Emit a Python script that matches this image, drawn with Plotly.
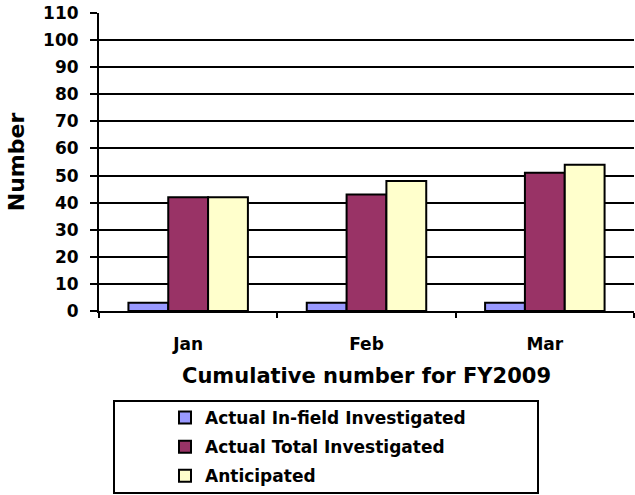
import plotly.graph_objects as go

months = ["Jan", "Feb", "Mar"]
infield = [3, 3, 3]
total = [42, 43, 51]
anticipated = [42, 48, 54]
series_names = ["Actual In-field Investigated", "Actual Total Investigated", "Anticipated"]
colors = ["#9999FF", "#993366", "#FFFFCC"]
y_ticks = list(range(0, 111, 10))

FONT = "DejaVu Sans"

fig = go.Figure()
for i, (name, vals, col) in enumerate(zip(series_names, [infield, total, anticipated], colors)):
    fig.add_trace(go.Bar(
        x=months, y=vals, name=name, legendgroup=str(i),
        marker=dict(color=col, line=dict(color="black", width=2)),
    ))

W, H = 635, 495
ml, mr, mt, mb = 99, 1, 13, 184
pw, ph = W - ml - mr, H - mt - mb

def px(x):
    return (x - ml) / pw

def py(y):
    return (H - mb - y) / ph

fig.update_layout(
    width=W, height=H,
    margin=dict(l=ml, r=mr, t=mt, b=mb, pad=0),
    paper_bgcolor="white", plot_bgcolor="white",
    barmode="group", bargap=0.33, bargroupgap=0,
    font=dict(family=FONT, color="black", size=17, weight="bold"),
    showlegend=True,
    legend=dict(
        orientation="v", x=px(165), xanchor="left", y=py(400), yanchor="top",
        font=dict(family=FONT, size=17, color="black", weight="bold"),
        bgcolor="rgba(0,0,0,0)", borderwidth=0, tracegroupgap=4,
        traceorder="grouped",
    ),
    xaxis=dict(
        type="category", showline=True, linecolor="black", linewidth=2,
        ticks="outside", tickson="boundaries", ticklen=5, tickcolor="black", tickwidth=2,
        ticklabelstandoff=17, showgrid=False,
        tickfont=dict(family=FONT, size=17, weight="bold"),
        title=dict(text="Cumulative number for FY2009", standoff=15,
                   font=dict(family=FONT, size=21, weight="bold")),
    ),
    yaxis=dict(
        range=[0, 110], tickvals=y_ticks, showline=True, linecolor="black", linewidth=2,
        ticks="outside", ticklen=7, tickcolor="black", tickwidth=2,
        ticklabelstandoff=8,
        showgrid=True, gridcolor="black", gridwidth=2, zeroline=False,
        tickfont=dict(family=FONT, size=17, weight="bold"),
        title=dict(text="Number", standoff=12,
                   font=dict(family=FONT, size=22, weight="bold")),
    ),
    shapes=[dict(type="rect", xref="paper", yref="paper",
                 x0=px(114), x1=px(538), y0=py(493), y1=py(401),
                 line=dict(color="black", width=2), fillcolor="rgba(0,0,0,0)")],
)

fig.write_html("out.html", config={"displayModeBar": False},
               post_script="document.body.style.margin='0';document.body.style.padding='0';")
